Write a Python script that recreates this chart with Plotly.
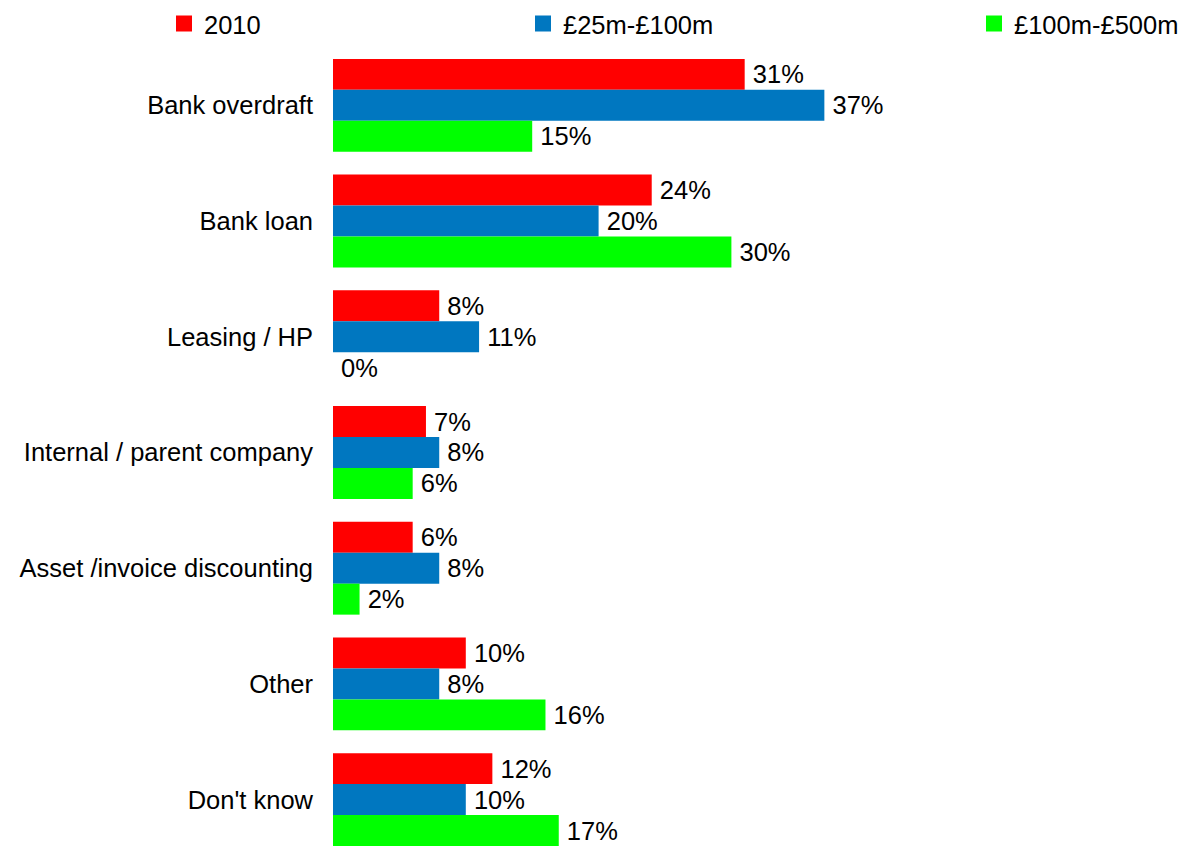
import plotly.graph_objects as go

# Sources of finance used, share of respondents (%)
categories = [
    "Bank overdraft",
    "Bank loan",
    "Leasing / HP",
    "Internal / parent company",
    "Asset /invoice discounting",
    "Other",
    "Don't know",
]
series_names = ["2010", "£25m-£100m", "£100m-£500m"]
values_2010 = [31, 24, 8, 7, 6, 10, 12]
values_25_100 = [37, 20, 11, 8, 8, 8, 10]
values_100_500 = [15, 30, 0, 6, 2, 16, 17]
series_values = [values_2010, values_25_100, values_100_500]
colors = ["#FF0000", "#0077C0", "#00FF00"]

W, H = 1180, 846
FONT = "Liberation Sans, Arial, sans-serif"
FS = 25.5
legend_ids = ["legend", "legend2", "legend3"]
legend_text_x = [204, 563, 1014]  # left edge of each legend label, px

fig = go.Figure()
for name, vals, col in zip(series_names, series_values, colors):
    fig.add_trace(go.Bar(
        name=name,
        y=categories,
        x=vals,
        orientation="h",
        marker=dict(color=col, line=dict(width=0)),
        text=[f"\u2009{v}%" for v in vals],
        textposition="outside",
        textfont=dict(family=FONT, size=FS, color="#000000"),
        constraintext="none",
        cliponaxis=False,
        showlegend=False,
        hoverinfo="skip",
    ))

# Legend keys: one square swatch per series, each in its own legend box
for name, col, lid in zip(series_names, colors, legend_ids):
    fig.add_trace(go.Scatter(
        name=name,
        x=[None], y=[None],
        mode="markers",
        marker=dict(symbol="square", size=16, color=col, line=dict(width=0)),
        legend=lid,
        showlegend=True,
        hoverinfo="skip",
    ))

legend_common = dict(
    orientation="h",
    xref="container", yref="container",
    xanchor="left", yanchor="middle",
    y=1 - 24 / H,
    font=dict(family=FONT, size=FS, color="#000000"),
    bgcolor="rgba(0,0,0,0)",
    borderwidth=0,
    itemsizing="trace",
)
legends = {}
for lid, tx in zip(legend_ids, legend_text_x):
    legends[lid] = dict(legend_common, x=(tx - 40) / W)

fig.update_layout(
    width=W, height=H,
    margin=dict(l=333, r=0, t=47, b=0, pad=0),
    paper_bgcolor="white", plot_bgcolor="white",
    barmode="group",
    bargap=0.197,
    bargroupgap=0,
    showlegend=True,
    font=dict(family=FONT, size=FS, color="#000000"),
    xaxis=dict(
        range=[0, (W - 333) / 13.28],
        showgrid=False, zeroline=False, showline=False,
        showticklabels=False, ticks="",
    ),
    yaxis=dict(
        type="category",
        categoryorder="array",
        categoryarray=categories,
        autorange=False,
        range=[6.401, -0.5],
        showgrid=False, zeroline=False, showline=False,
        ticks="", ticklabelstandoff=19,
        tickfont=dict(family=FONT, size=FS, color="#000000"),
    ),
    **legends,
)

fig.write_html("out.html")
